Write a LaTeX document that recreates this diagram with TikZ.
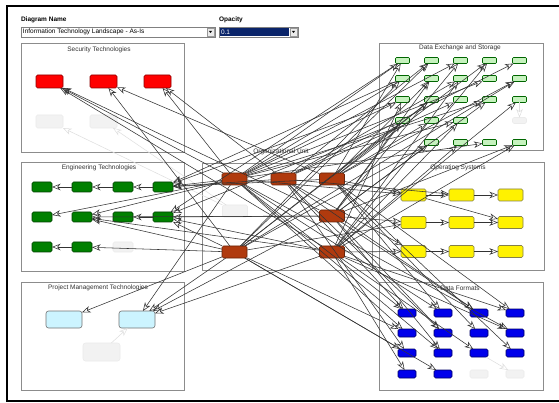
\documentclass[tikz,border=0pt]{standalone}
\usepackage{fontspec}
\setmainfont{Liberation Sans}
\usetikzlibrary{arrows.meta}
\definecolor{orgbrown}{HTML}{B03A0E}
\definecolor{dxgreen}{HTML}{C6F2BE}
\definecolor{pmcyan}{HTML}{CCF4FF}
\definecolor{selblue}{HTML}{0A246A}
\begin{document}
\begin{tikzpicture}[x=1pt,y=-1pt,
  every node/.style={inner sep=0pt, outer sep=0pt},
  box/.style={draw=black!45, line width=0.8pt},
  boxtitle/.style={font=\fontsize{6.5}{7}\selectfont, text=black!80},
  label/.style={font=\bfseries\fontsize{6.5}{7}\selectfont, anchor=west},
  item/.style={rounded corners=1.5pt, line width=0.6pt},
  sec/.style={item, fill=red, draw=red!55!black, minimum width=27pt, minimum height=13pt},
  eng/.style={item, fill=green!50!black, draw=green!25!black, minimum width=20pt, minimum height=10pt},
  org/.style={item, fill=orgbrown, draw=orgbrown!60!black, minimum width=25pt, minimum height=12pt},
  dx/.style={item, fill=dxgreen, draw=green!40!black, minimum width=14pt, minimum height=6pt, rounded corners=1pt},
  os/.style={item, fill=yellow, draw=yellow!45!black, minimum width=25pt, minimum height=12pt},
  df/.style={item, fill=blue!92!black, draw=blue!40!black, minimum width=18pt, minimum height=8pt},
  pm/.style={item, fill=pmcyan, draw=black!55, minimum width=36pt, minimum height=17pt, rounded corners=2.5pt},
  ghost/.style={item, fill=black!5, draw=black!8},
  link/.style={draw=black!80, line width=0.55pt, -{Stealth[open,length=8.5pt,width=6.5pt,inset=2.5pt]}},
  ghostlink/.style={draw=black!13, line width=0.5pt, -{Stealth[open,length=8.5pt,width=6.5pt,inset=2.5pt]}},
]
\useasboundingbox (0,0) rectangle (559,403);
\fill[white] (0,0) rectangle (559,403);

% frame
\draw[line width=2pt] (559,6) -- (7,6) -- (7,401) -- (559,401);

% header controls
\node[label] (dnl) at (21,20) {Diagram Name};
\draw[black!50, fill=white] (21,27) rectangle (215,37);
\node[anchor=west, font=\fontsize{6.5}{7}\selectfont] (dn) at (23,32.3) {Information Technology Landscape - As-Is};
\draw[black!40, fill=black!8] (207,28) rectangle (214,36);
\fill (208.8,30.8) -- (212.2,30.8) -- (210.5,33) -- cycle;
\node[label] (opl) at (219,20) {Opacity};
\draw[black!50, fill=white] (219,27) rectangle (298,37);
\fill[selblue] (220,28) rectangle (289,36);
\node[anchor=west, text=white, font=\fontsize{6.5}{7}\selectfont] (opv) at (221,32.3) {0.1};
\draw[black!40, fill=black!8] (290,28) rectangle (297,36);
\fill (291.8,30.8) -- (295.2,30.8) -- (293.5,33) -- cycle;

% category boxes
\draw[box] (21,43) rectangle (184,152);
\node[boxtitle] (tsec) at (99,50) {Security Technologies};
\draw[box] (21,162) rectangle (184,271);
\node[boxtitle] (teng) at (99,168) {Engineering Technologies};
\draw[box] (21,282) rectangle (184,390);
\node[boxtitle] (tpm) at (98,288) {Project Management Technologies};
\draw[box] (202,163) rectangle (372,270);
\node[boxtitle] (torg) at (281,152) {Organizational Unit};
\draw[box] (379,43) rectangle (543,150);
\node[boxtitle] (tdx) at (460,48) {Data Exchange and Storage};
\draw[box] (379,162) rectangle (544,270);
\node[boxtitle] (tos) at (458,168) {Operating Systems};
\draw[box] (379,282) rectangle (543,390);
\node[boxtitle] (tdf) at (460,288) {Data Formats};

% security
\node[sec] (R1) at (49.5,81.5) {};
\node[sec] (R2) at (103.5,81.5) {};
\node[sec] (R3) at (157.5,81.5) {};
\node[ghost, minimum width=27pt, minimum height=13pt] (S4) at (49.5,121.5) {};
\node[ghost, minimum width=27pt, minimum height=13pt] (S5) at (103.5,121.5) {};

% engineering
\node[eng] (G11) at (42,187) {};
\node[eng] (G12) at (82,187) {};
\node[eng] (G13) at (123,187) {};
\node[eng] (G14) at (163,187) {};
\node[eng] (G21) at (42,217) {};
\node[eng] (G22) at (82,217) {};
\node[eng] (G23) at (123,217) {};
\node[eng] (G24) at (163,217) {};
\node[eng] (G31) at (42,247) {};
\node[eng] (G32) at (82,247) {};
\node[ghost, minimum width=20pt, minimum height=10pt] (G33) at (123,247) {};

% organizational units
\node[ghost, minimum width=25pt, minimum height=12pt] (OF) at (235,211) {};
\node[org] (O1) at (234.5,179) {};
\node[org] (O2) at (283.5,179) {};
\node[org] (O3) at (332,179) {};
\node[org] (O4) at (332,216) {};
\node[org] (O5) at (234.5,252) {};
\node[org] (O6) at (332,252) {};

% data exchange and storage
\foreach \c/\x in {1/402.5,2/431.5,3/460.5,4/489.5,5/519.5}{
  \node[dx] (D1\c) at (\x,60.5) {};
  \node[dx] (D2\c) at (\x,78.5) {};
  \node[dx] (D3\c) at (\x,99.5) {};
}
\node[dx] (D41) at (402.5,120.5) {};
\node[dx] (D42) at (431.5,120.5) {};
\node[dx] (D43) at (460.5,120.5) {};
\node[ghost, minimum width=14pt, minimum height=6pt] (D45) at (519.5,120.5) {};
\node[dx] (D52) at (431.5,142.5) {};
\node[dx] (D53) at (460.5,142.5) {};
\node[dx] (D54) at (489.5,142.5) {};
\node[dx] (D55) at (519.5,142.5) {};

% operating systems
\foreach \c/\x in {1/413.5,2/461.5,3/510.5}{
  \node[os] (Y1\c) at (\x,195) {};
  \node[os] (Y2\c) at (\x,222.5) {};
  \node[os] (Y3\c) at (\x,251.5) {};
}

% data formats
\foreach \c/\x in {1/407,2/443,3/479,4/515}{
  \node[df] (B1\c) at (\x,313) {};
  \node[df] (B2\c) at (\x,333) {};
  \node[df] (B3\c) at (\x,353) {};
}
\node[df] (B41) at (407,374) {};
\node[df] (B42) at (443,374) {};
\node[ghost, minimum width=18pt, minimum height=8pt] (B43) at (479,374) {};
\node[ghost, minimum width=18pt, minimum height=8pt] (B44) at (515,374) {};

% project management
\node[pm] (P1) at (64,319.5) {};
\node[pm] (P2) at (137,319.5) {};
\node[ghost, minimum width=37pt, minimum height=18pt, rounded corners=2.5pt] (P3) at (101.5,352) {};

% faded dependencies
\foreach \a/\b in {OF/S4, OF/S5, P3/P2, B33/B44, D35/D45}
  \draw[ghostlink] (\a) -- (\b);

% security dependencies
\foreach \a/\b in {O1/R1, O4/R1, O6/R1, O5/R2, O3/R2, O1/R3, O2/R3}
  \draw[link] (\a) -- (\b);

% engineering dependencies
\foreach \a/\b in {O1/G14, O3/G14, O2/G14, G14/G13, G13/G12, G12/G11,
                   O1/G21, O1/G22, O4/G22, O5/G22, O6/G22,
                   O5/G24, O4/G24, O6/G24, D11/G24, D31/G14, D21/G14, D41/G24,
                   G24/G23, G32/G31, O5/G32}
  \draw[link] (\a) -- (\b);

% project management dependencies
\foreach \a/\b in {O1/P2, O5/P2, O4/P2, O6/P2, O5/P1}
  \draw[link] (\a) -- (\b);

% data exchange dependencies
\foreach \a/\b in {O1/D11, O3/D11, O2/D12, O5/D12, O1/D13, O4/D13, O3/D14, O6/D14, O2/D15,
                   O1/D21, O5/D21, O3/D22, O4/D22, O2/D23, O6/D23, O1/D24, O5/D25, O3/D25,
                   O1/D31, O6/D31, O3/D32, O5/D32, O2/D33, O4/D34, O1/D34, O6/D35,
                   O5/D41, O4/D41, O3/D42, O6/D43, O1/D43,
                   O5/D52, O4/D52, O6/D53, O1/D54, O6/D55, O4/D55}
  \draw[link] (\a) -- (\b);

% operating system dependencies
\foreach \a/\b in {O1/Y11, O3/Y11, O4/Y21, O5/Y21, O2/Y31, O6/Y31, O2/Y12,
                   Y11/Y12, Y12/Y13, Y21/Y22, Y22/Y23, Y11/Y23, Y31/Y32, Y32/Y33}
  \draw[link] (\a) -- (\b);

% data format dependencies
\foreach \a/\b in {O2/B11, O1/B11, O1/B12, O3/B12, O2/B13, O4/B13, O3/B14, O6/B14,
                   O1/B21, O5/B21, O2/B22, O4/B22, O3/B23, O1/B24, O6/B24,
                   O2/B31, O5/B31, O4/B32, O1/B32, O6/B33, O3/B34, O6/B41, O5/B42}
  \draw[link] (\a) -- (\b);
\end{tikzpicture}
\end{document}
